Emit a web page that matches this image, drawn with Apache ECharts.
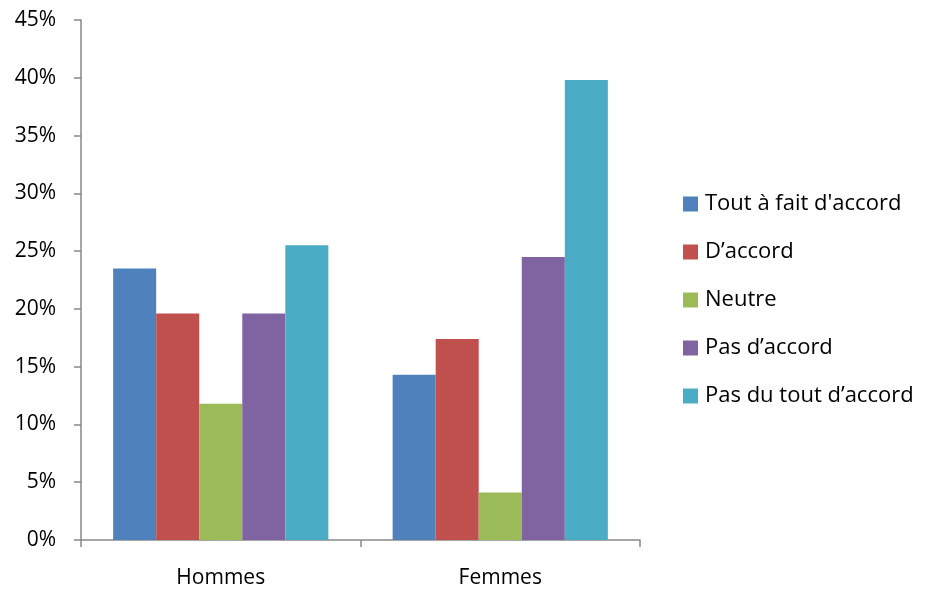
<!DOCTYPE html>
<html>
<head>
<meta charset="utf-8">
<script src="https://cdn.jsdelivr.net/npm/echarts@6/dist/echarts.min.js"></script>
<style>
  html, body { margin: 0; padding: 0; background: #fff; }
  #chart { width: 928px; height: 590px; }
</style>
</head>
<body>
<div id="chart"></div>
<script>
// categories and series values (percent)
var categories = ['Hommes', 'Femmes'];
var seriesNames = ["Tout à fait d'accord", 'D’accord', 'Neutre', 'Pas d’accord', 'Pas du tout d’accord'];
var toutAFait = [23.5, 14.3];
var dAccord = [19.6, 17.4];
var neutre = [11.8, 4.1];
var pasDAccord = [19.6, 24.5];
var pasDuTout = [25.5, 39.8];
var colors = ['#4f81bd', '#c0504d', '#9bbb59', '#8064a2', '#4bacc6'];

var values = [toutAFait, dAccord, neutre, pasDAccord, pasDuTout];
var font = '"Open Sans", "Liberation Sans", sans-serif';

var myChart = echarts.init(document.getElementById('chart'));
var option = {
  animation: false,
  color: colors,
  grid: { left: 81, right: 288, top: 20, bottom: 50 },
  legend: {
    orient: 'vertical',
    left: 683,
    top: 193,
    padding: 0,
    itemWidth: 15,
    itemHeight: 15,
    itemGap: 26,
    icon: 'rect',
    textStyle: { fontFamily: font, fontSize: 22, color: '#000', padding: [0, 0, 0, 2] },
    data: seriesNames
  },
  xAxis: {
    type: 'category',
    data: categories,
    axisLine: { lineStyle: { color: '#898989', width: 1.5 } },
    axisTick: { show: true, length: 7, lineStyle: { color: '#898989', width: 1.5 } },
    axisLabel: { fontFamily: font, fontSize: 21, color: '#000', margin: 28 }
  },
  yAxis: {
    type: 'value',
    min: 0,
    max: 45,
    interval: 5,
    splitLine: { show: false },
    axisLine: { show: true, lineStyle: { color: '#898989', width: 1.5 } },
    axisTick: { show: true, length: 7, lineStyle: { color: '#898989', width: 1.5 } },
    axisLabel: { fontFamily: font, fontSize: 21, color: '#000', margin: 25, formatter: '{value}%' }
  },
  series: seriesNames.map(function (name, i) {
    return {
      name: name,
      type: 'bar',
      data: values[i],
      barGap: '0%',
      barCategoryGap: '23%'
    };
  })
};
myChart.setOption(option);
</script>
</body>
</html>
